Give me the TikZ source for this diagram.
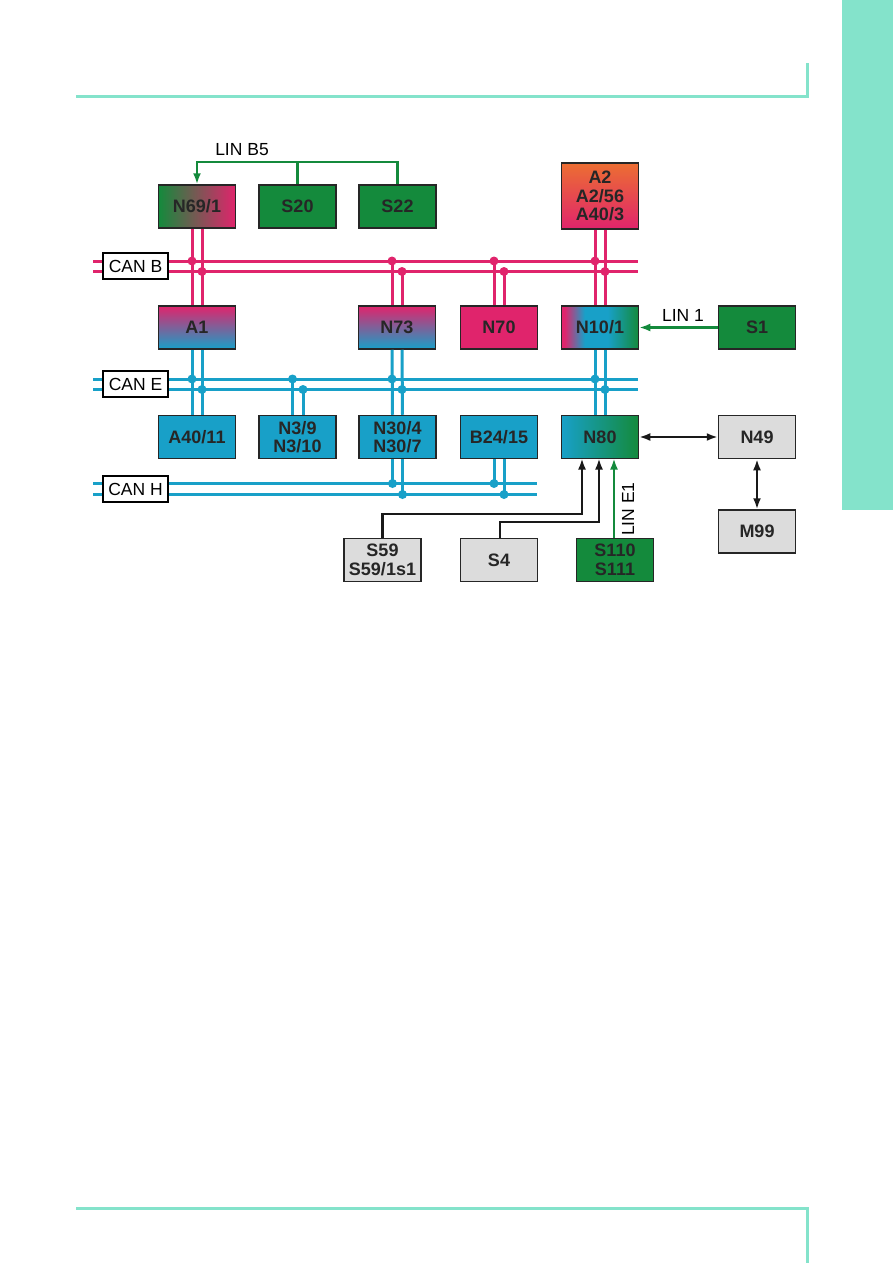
\documentclass[tikz,border=0pt]{standalone}
\usepackage{fontspec}
\setmainfont{Liberation Sans}
\usepackage{xcolor}
\usepackage{tikz}
\usetikzlibrary{arrows.meta, positioning}

\definecolor{canpink}{RGB}{224,36,108}
\definecolor{canblue}{RGB}{24,160,200}
\definecolor{lingreen}{RGB}{20,138,60}
\definecolor{boxgrey}{RGB}{220,220,220}
\definecolor{pagemint}{RGB}{132,227,203}
\definecolor{a2orange}{RGB}{236,110,50}
\definecolor{a2yellow}{RGB}{250,212,20}

\pgfdeclarehorizontalshading{tenone}{100bp}{color(0bp)=(canpink); color(27bp)=(canpink); color(40bp)=(canblue); color(55bp)=(canblue); color(75bp)=(lingreen); color(100bp)=(lingreen)}

\begin{document}
\begin{tikzpicture}[x=1pt, y=-1pt]
    \tikzstyle{unit} = [rectangle, draw=black!85, line width=1.5pt, minimum width=77pt, minimum height=43pt, align=center, font=\fontsize{18}{18}\selectfont\bfseries, text=black!85]
    \tikzstyle{busname} = [rectangle, draw=black, line width=1.5pt, fill=white, minimum width=65pt, minimum height=26pt, inner sep=0pt, font=\fontsize{17.5}{18}\selectfont]
    \tikzstyle{pinkbus} = [draw=canpink, line width=3pt]
    \tikzstyle{bluebus} = [draw=canblue, line width=3pt]
    \tikzstyle{tap} = [radius=4.5pt]
    \tikzstyle{lin} = [draw=lingreen, line width=2.2pt, -{Latex[length=11pt,width=8pt]}]
    \tikzstyle{wire} = [draw=black!90, line width=2.2pt, -{Latex[length=11pt,width=8pt]}]
    \tikzstyle{both} = [draw=black!90, line width=2.2pt, {Latex[length=11pt,width=8pt]}-{Latex[length=11pt,width=8pt]}]

    \useasboundingbox (0,0) rectangle (893,1263);

    % page frame
    \fill[pagemint] (842,0) rectangle (893,510);
    \draw[pagemint, line width=3pt] (76,96) -- (807,96) -- (807,63);
    \draw[pagemint, line width=3pt] (76,1208) -- (807,1208) -- (807,1263);

    % control units
    \node [unit, left color=lingreen, right color=canpink] (n691) at (197,206.5) {N69/1};
    \node [unit, fill=lingreen] (s20) at (297.5,206.5) {S20};
    \node [unit, fill=lingreen] (s22) at (397.5,206.5) {S22};
    \node [unit, minimum height=66pt, top color=a2orange, middle color=a2yellow, bottom color=canpink, font=\fontsize{18}{18.5}\selectfont\bfseries] (a2) at (600,196) {A2\\A2/56\\A40/3};

    \node [unit, top color=canpink, bottom color=canblue] (a1) at (197,327.5) {A1};
    \node [unit, top color=canpink, bottom color=canblue] (n73) at (397,327.5) {N73};
    \node [unit, fill=canpink] (n70) at (499,327.5) {N70};
    \node [unit, shading=tenone] (n101) at (600,327.5) {N10/1};
    \node [unit, fill=lingreen] (s1) at (757,327.5) {S1};

    \node [unit, fill=canblue] (a4011) at (197,437) {A40/11};
    \node [unit, fill=canblue, font=\fontsize{18}{18.5}\selectfont\bfseries] (n39) at (297.5,437) {N3/9\\N3/10};
    \node [unit, fill=canblue, font=\fontsize{18}{18.5}\selectfont\bfseries] (n304) at (397.5,437) {N30/4\\N30/7};
    \node [unit, fill=canblue] (b2415) at (499,437) {B24/15};
    \node [unit, left color=canblue, right color=lingreen] (n80) at (600,437) {N80};
    \node [unit, fill=boxgrey] (n49) at (757,437) {N49};
    \node [unit, fill=boxgrey, below=50pt of n49] (m99) {M99};

    \node [unit, fill=boxgrey, font=\fontsize{18}{18.5}\selectfont\bfseries] (s59) at (382.5,560) {S59\\S59/1s1};
    \node [unit, fill=boxgrey] (s4) at (499,560) {S4};
    \node [unit, fill=lingreen, font=\fontsize{18}{18.5}\selectfont\bfseries] (s110) at (615,560) {S110\\S111};

    % bus ends
    \coordinate (canb1) at (93,261);   \coordinate (canb1e) at (638,261);
    \coordinate (canb2) at (93,271.5); \coordinate (canb2e) at (638,271.5);
    \coordinate (cane1) at (93,379);   \coordinate (cane1e) at (638,379);
    \coordinate (cane2) at (93,389.5); \coordinate (cane2e) at (638,389.5);
    \coordinate (canh1) at (93,483.5); \coordinate (canh1e) at (537,483.5);
    \coordinate (canh2) at (93,494.5); \coordinate (canh2e) at (537,494.5);

    % CAN B
    \path [pinkbus] (canb1) -- (canb1e);
    \path [pinkbus] (canb2) -- (canb2e);
    \path [pinkbus] ([xshift=-5pt]n691.south) -- ([xshift=-5pt]a1.north);
    \path [pinkbus] ([xshift=5pt]n691.south) -- ([xshift=5pt]a1.north);
    \path [pinkbus] ([xshift=-5pt]n73.north |- canb1) -- ([xshift=-5pt]n73.north);
    \path [pinkbus] ([xshift=5pt]n73.north |- canb2) -- ([xshift=5pt]n73.north);
    \path [pinkbus] ([xshift=-5pt]n70.north |- canb1) -- ([xshift=-5pt]n70.north);
    \path [pinkbus] ([xshift=5pt]n70.north |- canb2) -- ([xshift=5pt]n70.north);
    \path [pinkbus] ([xshift=-5pt]a2.south) -- ([xshift=-5pt]n101.north);
    \path [pinkbus] ([xshift=5pt]a2.south) -- ([xshift=5pt]n101.north);
    \foreach \u in {n691,n73,n70,n101} {
        \fill[canpink] ([xshift=-5pt]\u.north |- canb1) circle[tap];
        \fill[canpink] ([xshift=5pt]\u.north |- canb2) circle[tap];
    }

    % CAN E
    \path [bluebus] (cane1) -- (cane1e);
    \path [bluebus] (cane2) -- (cane2e);
    \path [bluebus] ([xshift=-5pt]a1.south) -- ([xshift=-5pt]a4011.north);
    \path [bluebus] ([xshift=5pt]a1.south) -- ([xshift=5pt]a4011.north);
    \path [bluebus] ([xshift=-5pt]n39.north |- cane1) -- ([xshift=-5pt]n39.north);
    \path [bluebus] ([xshift=5.5pt]n39.north |- cane2) -- ([xshift=5.5pt]n39.north);
    \path [bluebus] ([xshift=-5pt]n73.south) -- ([xshift=-5pt]n304.north);
    \path [bluebus] ([xshift=5pt]n73.south) -- ([xshift=5pt]n304.north);
    \path [bluebus] ([xshift=-5pt]n101.south) -- ([xshift=-5pt]n80.north);
    \path [bluebus] ([xshift=5pt]n101.south) -- ([xshift=5pt]n80.north);
    \fill[canblue] ([xshift=-5pt]n39.north |- cane1) circle[tap];
    \fill[canblue] ([xshift=5.5pt]n39.north |- cane2) circle[tap];
    \foreach \u in {a1,n73,n101} {
        \fill[canblue] ([xshift=-5pt]\u.south |- cane1) circle[tap];
        \fill[canblue] ([xshift=5pt]\u.south |- cane2) circle[tap];
    }

    % CAN H
    \path [bluebus] (canh1) -- (canh1e);
    \path [bluebus] (canh2) -- (canh2e);
    \foreach \u in {n304,b2415} {
        \path [bluebus] ([xshift=-5pt]\u.south) -- ([xshift=-5pt]\u.south |- canh1);
        \path [bluebus] ([xshift=5pt]\u.south) -- ([xshift=5pt]\u.south |- canh2);
        \fill[canblue] ([xshift=-5pt]\u.south |- canh1) circle[tap];
        \fill[canblue] ([xshift=5pt]\u.south |- canh2) circle[tap];
    }

    \node [busname] (canb) at (135.5,266) {CAN B};
    \node [busname] (cane) at (135.5,384) {CAN E};
    \node [busname] (canh) at (135.5,489) {CAN H};

    % LIN buses
    \coordinate (linb5) at (397.5,162);
    \path [lin] (s22.north) -- (linb5) -| (n691.north);
    \draw [lingreen, line width=2.2pt] (s20.north) -- (s20.north |- linb5);
    \node [font=\fontsize{17.5}{18}\selectfont] (linb5txt) at (242,150) {LIN B5};

    \path [lin] (s1.west) -- (n101.east);
    \node [font=\fontsize{17.5}{18}\selectfont] (lin1txt) at (683,315) {LIN 1};

    \path [lin] (s110.north -| 614,0) -- (614,458.5);
    \node [font=\fontsize{17.5}{18}\selectfont, rotate=90] (line1txt) at (628,509) {LIN E1};

    % discrete inputs
    \path [wire] (s59.north) |- (582,514) -- (582,458.5);
    \path [wire] ([xshift=1pt]s4.north) |- (599,522) -- (599,458.5);

    \path [both] (n80.east) -- (n49.west);
    \path [both] (n49.south) -- (m99.north);
\end{tikzpicture}
\end{document}
